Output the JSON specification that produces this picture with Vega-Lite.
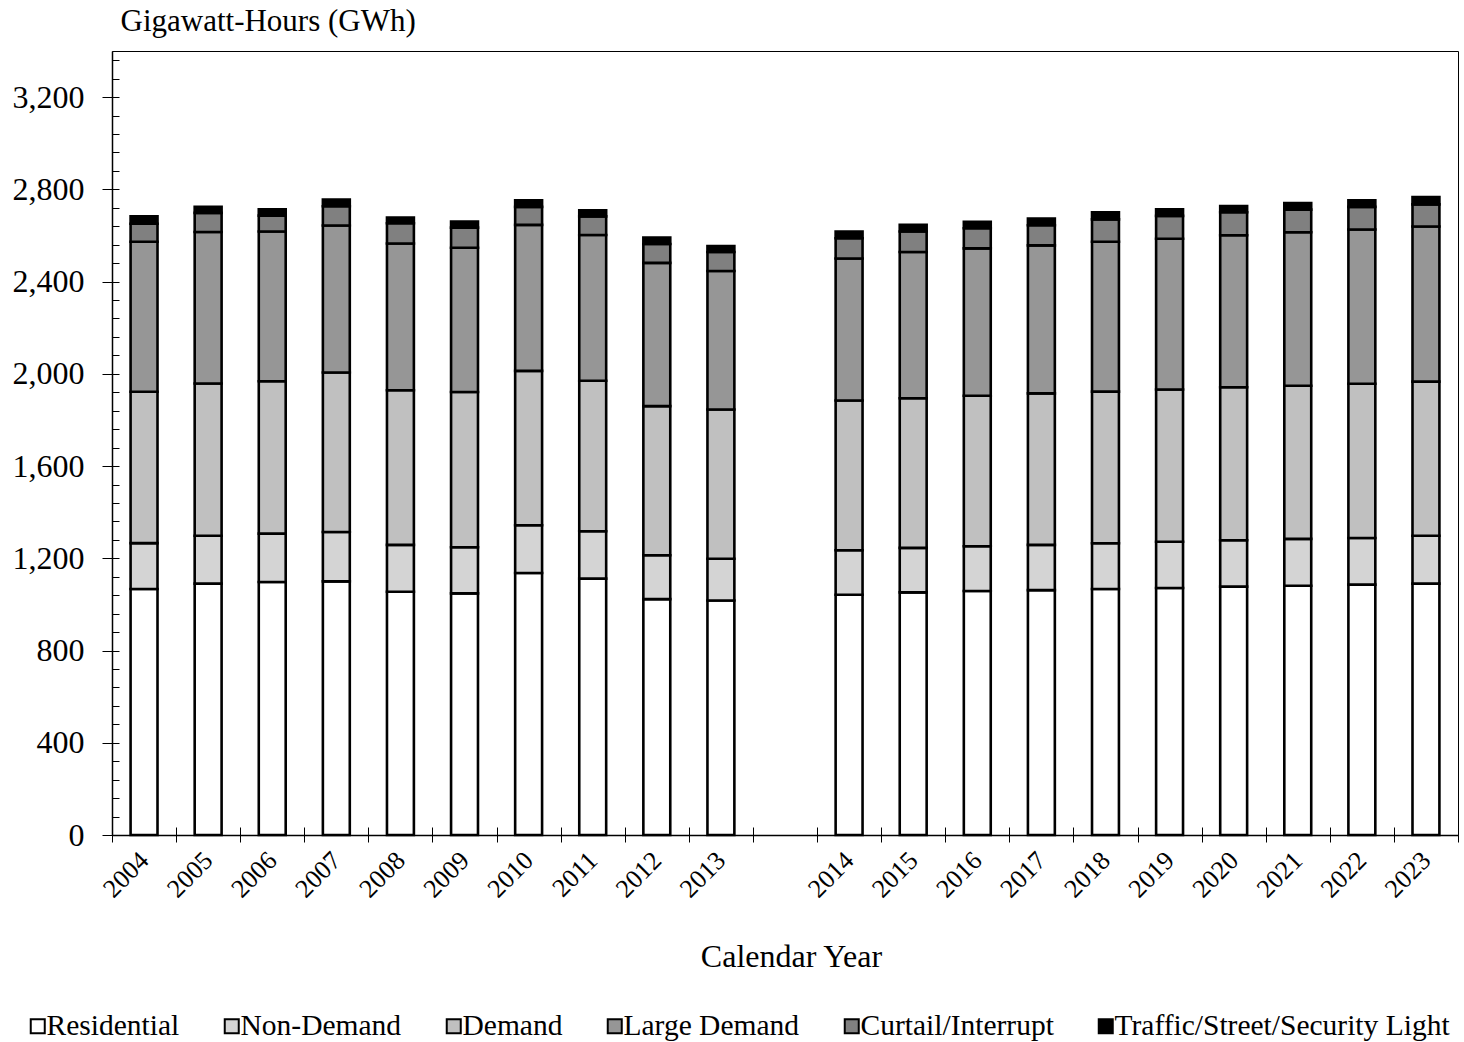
{
  "$schema": "https://vega.github.io/schema/vega-lite/v6.json",
  "autosize": "none",
  "width": 1346,
  "height": 784,
  "padding": {"left": 112, "top": 51, "right": 6, "bottom": 207},
  "background": "white",
  "config": {
    "font": "Liberation Serif",
    "view": {"stroke": "#000000", "strokeWidth": 1},
    "axis": {"domainColor": "#000000", "tickColor": "#000000", "domainWidth": 1.5, "tickWidth": 1, "grid": false, "labelColor": "#000000", "titleColor": "#000000", "titleFontWeight": "normal", "labelFont": "Liberation Serif", "titleFont": "Liberation Serif"},
    "legend": {"labelFont": "Liberation Serif", "labelColor": "#000000"}
  },
  "data": {"values": [
    {"year":"2004","cat":"Residential","k":1,"v":1067},{"year":"2004","cat":"Non-Demand","k":2,"v":199},{"year":"2004","cat":"Demand","k":3,"v":656},{"year":"2004","cat":"Large Demand","k":4,"v":651},{"year":"2004","cat":"Curtail/Interrupt","k":5,"v":78},{"year":"2004","cat":"Traffic/Street/Security Light","k":6,"v":32},
    {"year":"2005","cat":"Residential","k":1,"v":1090},{"year":"2005","cat":"Non-Demand","k":2,"v":208},{"year":"2005","cat":"Demand","k":3,"v":660},{"year":"2005","cat":"Large Demand","k":4,"v":657},{"year":"2005","cat":"Curtail/Interrupt","k":5,"v":83},{"year":"2005","cat":"Traffic/Street/Security Light","k":6,"v":26},
    {"year":"2006","cat":"Residential","k":1,"v":1097},{"year":"2006","cat":"Non-Demand","k":2,"v":210},{"year":"2006","cat":"Demand","k":3,"v":661},{"year":"2006","cat":"Large Demand","k":4,"v":649},{"year":"2006","cat":"Curtail/Interrupt","k":5,"v":69},{"year":"2006","cat":"Traffic/Street/Security Light","k":6,"v":28},
    {"year":"2007","cat":"Residential","k":1,"v":1100},{"year":"2007","cat":"Non-Demand","k":2,"v":214},{"year":"2007","cat":"Demand","k":3,"v":692},{"year":"2007","cat":"Large Demand","k":4,"v":637},{"year":"2007","cat":"Curtail/Interrupt","k":5,"v":84},{"year":"2007","cat":"Traffic/Street/Security Light","k":6,"v":29},
    {"year":"2008","cat":"Residential","k":1,"v":1055},{"year":"2008","cat":"Non-Demand","k":2,"v":203},{"year":"2008","cat":"Demand","k":3,"v":671},{"year":"2008","cat":"Large Demand","k":4,"v":636},{"year":"2008","cat":"Curtail/Interrupt","k":5,"v":88},{"year":"2008","cat":"Traffic/Street/Security Light","k":6,"v":25},
    {"year":"2009","cat":"Residential","k":1,"v":1048},{"year":"2009","cat":"Non-Demand","k":2,"v":200},{"year":"2009","cat":"Demand","k":3,"v":673},{"year":"2009","cat":"Large Demand","k":4,"v":626},{"year":"2009","cat":"Curtail/Interrupt","k":5,"v":87},{"year":"2009","cat":"Traffic/Street/Security Light","k":6,"v":26},
    {"year":"2010","cat":"Residential","k":1,"v":1136},{"year":"2010","cat":"Non-Demand","k":2,"v":207},{"year":"2010","cat":"Demand","k":3,"v":670},{"year":"2010","cat":"Large Demand","k":4,"v":633},{"year":"2010","cat":"Curtail/Interrupt","k":5,"v":78},{"year":"2010","cat":"Traffic/Street/Security Light","k":6,"v":29},
    {"year":"2011","cat":"Residential","k":1,"v":1112},{"year":"2011","cat":"Non-Demand","k":2,"v":205},{"year":"2011","cat":"Demand","k":3,"v":653},{"year":"2011","cat":"Large Demand","k":4,"v":632},{"year":"2011","cat":"Curtail/Interrupt","k":5,"v":81},{"year":"2011","cat":"Traffic/Street/Security Light","k":6,"v":26},
    {"year":"2012","cat":"Residential","k":1,"v":1023},{"year":"2012","cat":"Non-Demand","k":2,"v":190},{"year":"2012","cat":"Demand","k":3,"v":647},{"year":"2012","cat":"Large Demand","k":4,"v":621},{"year":"2012","cat":"Curtail/Interrupt","k":5,"v":82},{"year":"2012","cat":"Traffic/Street/Security Light","k":6,"v":28},
    {"year":"2013","cat":"Residential","k":1,"v":1017},{"year":"2013","cat":"Non-Demand","k":2,"v":181},{"year":"2013","cat":"Demand","k":3,"v":647},{"year":"2013","cat":"Large Demand","k":4,"v":601},{"year":"2013","cat":"Curtail/Interrupt","k":5,"v":82},{"year":"2013","cat":"Traffic/Street/Security Light","k":6,"v":26},
    {"year":"2014","cat":"Residential","k":1,"v":1042},{"year":"2014","cat":"Non-Demand","k":2,"v":193},{"year":"2014","cat":"Demand","k":3,"v":649},{"year":"2014","cat":"Large Demand","k":4,"v":616},{"year":"2014","cat":"Curtail/Interrupt","k":5,"v":88},{"year":"2014","cat":"Traffic/Street/Security Light","k":6,"v":29},
    {"year":"2015","cat":"Residential","k":1,"v":1052},{"year":"2015","cat":"Non-Demand","k":2,"v":193},{"year":"2015","cat":"Demand","k":3,"v":649},{"year":"2015","cat":"Large Demand","k":4,"v":634},{"year":"2015","cat":"Curtail/Interrupt","k":5,"v":89},{"year":"2015","cat":"Traffic/Street/Security Light","k":6,"v":29},
    {"year":"2016","cat":"Residential","k":1,"v":1058},{"year":"2016","cat":"Non-Demand","k":2,"v":194},{"year":"2016","cat":"Demand","k":3,"v":653},{"year":"2016","cat":"Large Demand","k":4,"v":639},{"year":"2016","cat":"Curtail/Interrupt","k":5,"v":87},{"year":"2016","cat":"Traffic/Street/Security Light","k":6,"v":28},
    {"year":"2017","cat":"Residential","k":1,"v":1062},{"year":"2017","cat":"Non-Demand","k":2,"v":196},{"year":"2017","cat":"Demand","k":3,"v":657},{"year":"2017","cat":"Large Demand","k":4,"v":642},{"year":"2017","cat":"Curtail/Interrupt","k":5,"v":87},{"year":"2017","cat":"Traffic/Street/Security Light","k":6,"v":29},
    {"year":"2018","cat":"Residential","k":1,"v":1067},{"year":"2018","cat":"Non-Demand","k":2,"v":198},{"year":"2018","cat":"Demand","k":3,"v":658},{"year":"2018","cat":"Large Demand","k":4,"v":650},{"year":"2018","cat":"Curtail/Interrupt","k":5,"v":97},{"year":"2018","cat":"Traffic/Street/Security Light","k":6,"v":31},
    {"year":"2019","cat":"Residential","k":1,"v":1071},{"year":"2019","cat":"Non-Demand","k":2,"v":201},{"year":"2019","cat":"Demand","k":3,"v":660},{"year":"2019","cat":"Large Demand","k":4,"v":654},{"year":"2019","cat":"Curtail/Interrupt","k":5,"v":99},{"year":"2019","cat":"Traffic/Street/Security Light","k":6,"v":29},
    {"year":"2020","cat":"Residential","k":1,"v":1077},{"year":"2020","cat":"Non-Demand","k":2,"v":201},{"year":"2020","cat":"Demand","k":3,"v":664},{"year":"2020","cat":"Large Demand","k":4,"v":659},{"year":"2020","cat":"Curtail/Interrupt","k":5,"v":100},{"year":"2020","cat":"Traffic/Street/Security Light","k":6,"v":27},
    {"year":"2021","cat":"Residential","k":1,"v":1081},{"year":"2021","cat":"Non-Demand","k":2,"v":203},{"year":"2021","cat":"Demand","k":3,"v":664},{"year":"2021","cat":"Large Demand","k":4,"v":666},{"year":"2021","cat":"Curtail/Interrupt","k":5,"v":98},{"year":"2021","cat":"Traffic/Street/Security Light","k":6,"v":29},
    {"year":"2022","cat":"Residential","k":1,"v":1086},{"year":"2022","cat":"Non-Demand","k":2,"v":202},{"year":"2022","cat":"Demand","k":3,"v":669},{"year":"2022","cat":"Large Demand","k":4,"v":669},{"year":"2022","cat":"Curtail/Interrupt","k":5,"v":98},{"year":"2022","cat":"Traffic/Street/Security Light","k":6,"v":29},
    {"year":"2023","cat":"Residential","k":1,"v":1090},{"year":"2023","cat":"Non-Demand","k":2,"v":208},{"year":"2023","cat":"Demand","k":3,"v":668},{"year":"2023","cat":"Large Demand","k":4,"v":673},{"year":"2023","cat":"Curtail/Interrupt","k":5,"v":96},{"year":"2023","cat":"Traffic/Street/Security Light","k":6,"v":32}
  ]},
  "layer": [
    {
      "mark": {"type": "bar", "width": {"band": 0.42}, "stroke": "#000000", "strokeWidth": 2.6, "opacity": 1},
      "encoding": {
        "x": {
          "field": "year", "type": "nominal",
          "scale": {"domain": ["2004","2005","2006","2007","2008","2009","2010","2011","2012","2013","gap","2014","2015","2016","2017","2018","2019","2020","2021","2022","2023"], "paddingInner": 0, "paddingOuter": 0},
          "axis": {
            "orient": "bottom",
            "title": "Calendar Year", "titleFontSize": 32, "titleX": 679, "titleY": 131, "titleBaseline": "alphabetic", "titleAnchor": "middle",
            "labelExpr": "datum.value == 'gap' ? '' : datum.value",
            "labelAngle": -45, "labelAlign": "right", "labelBaseline": "middle", "labelFontSize": 26, "labelPadding": 14,
            "tickBand": "extent", "tickSize": 7, "domain": true
          }
        },
        "y": {
          "field": "v", "type": "quantitative", "stack": "zero",
          "scale": {"domain": [0, 3400], "nice": false, "zero": true},
          "axis": {
            "orient": "left",
            "values": [0,400,800,1200,1600,2000,2400,2800,3200],
            "format": ",d",
            "title": "Gigawatt-Hours (GWh)", "titleFontSize": 31, "titleAngle": 0, "titleAlign": "left", "titleBaseline": "alphabetic", "titleX": 8, "titleY": -21,
            "labelFontSize": 32, "labelPadding": 18, "tickSize": 10
          }
        },
        "order": {"field": "k", "type": "quantitative", "sort": "ascending"},
        "color": {
          "field": "cat", "type": "nominal",
          "sort": ["Residential","Non-Demand","Demand","Large Demand","Curtail/Interrupt","Traffic/Street/Security Light"],
          "scale": {
            "domain": ["Residential","Non-Demand","Demand","Large Demand","Curtail/Interrupt","Traffic/Street/Security Light"],
            "range": ["#ffffff","#d4d4d4","#c0c0c0","#969696","#808080","#000000"]
          },
          "legend": {
            "orient": "none", "direction": "horizontal", "legendX": -89, "legendY": 960,
            "title": null, "symbolType": "square", "symbolSize": 196, "symbolStrokeColor": "#000000", "symbolStrokeWidth": 2,
            "labelFontSize": 29.5, "labelOffset": -6, "columnPadding": 37, "labelLimit": 600
          }
        }
      }
    },
    {
      "mark": {"type": "bar", "width": {"band": 0.42}, "opacity": 0},
      "encoding": {
        "x": {
          "field": "year", "type": "nominal",
          "axis": {"orient": "bottom", "title": null, "labels": false, "domain": false, "tickBand": "extent", "tickSize": -8}
        },
        "y": {
          "field": "v", "type": "quantitative", "stack": "zero",
          "axis": {"orient": "left", "title": null, "labels": false, "domain": false, "tickSize": -7,
            "values": [80,160,240,320,400,480,560,640,720,800,880,960,1040,1120,1200,1280,1360,1440,1520,1600,1680,1760,1840,1920,2000,2080,2160,2240,2320,2400,2480,2560,2640,2720,2800,2880,2960,3040,3120,3200,3280,3360]}
        },
        "order": {"field": "k", "type": "quantitative", "sort": "ascending"}
      }
    }
  ],
  "resolve": {"axis": {"x": "independent", "y": "independent"}}
}
